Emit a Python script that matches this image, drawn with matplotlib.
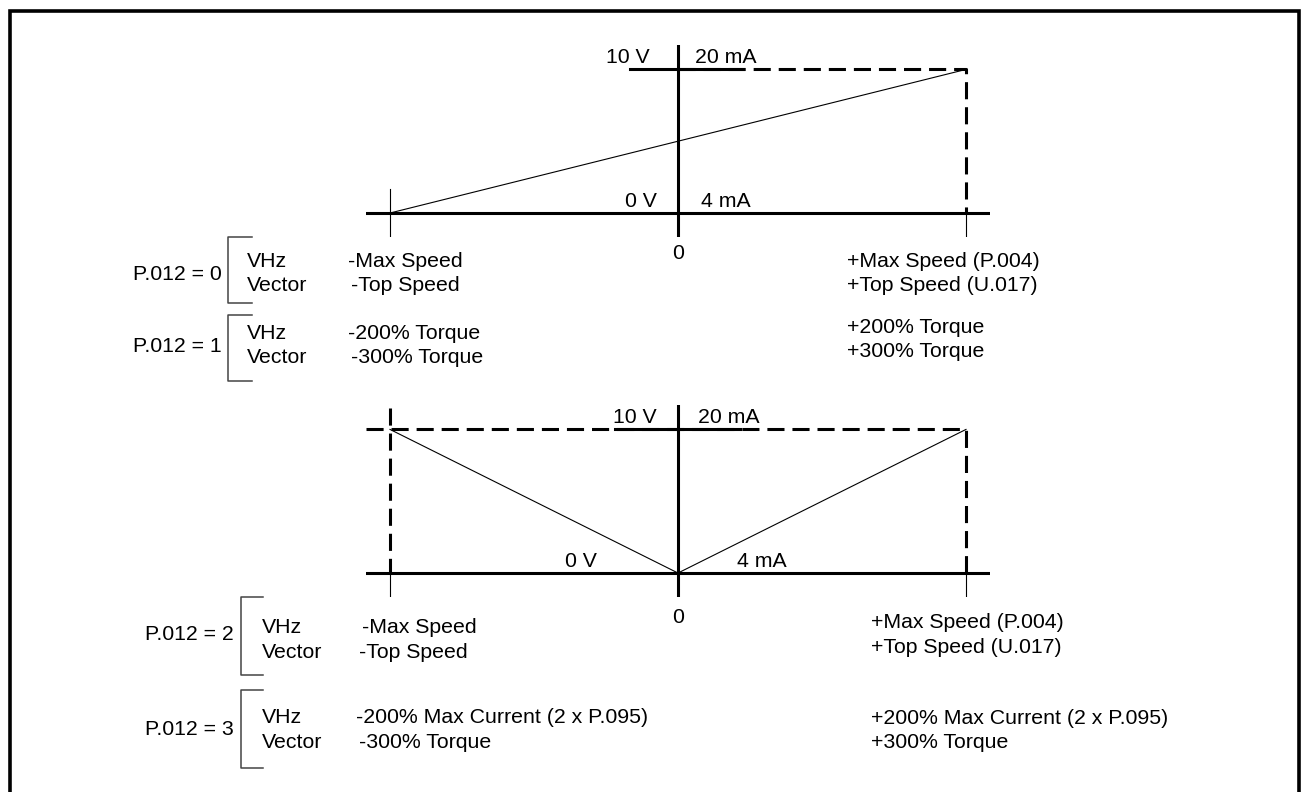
import matplotlib
matplotlib.use("Agg")
import matplotlib.pyplot as plt

plt.rcParams['font.family'] = ['Liberation Sans', 'DejaVu Sans']

# ---------------- data ----------------
speed = [-1.0, 0.0, 1.0]                 # fraction of max speed / torque
unipolar_V = [0.0, 5.0, 10.0]            # P.012 = 0 / 1
bipolar_V = [10.0, 0.0, 10.0]            # P.012 = 2 / 3
v_labels = ["0 V", "10 V"]
ma_labels = ["4 mA", "20 mA"]
zero_label = "0"

top_params = ["P.012 = 0", "P.012 = 1"]
bot_params = ["P.012 = 2", "P.012 = 3"]
modes = ["VHz", "Vector"]
top_neg = [["-Max Speed", "-Top Speed"], ["-200% Torque", "-300% Torque"]]
top_pos = [["+Max Speed (P.004)", "+Top Speed (U.017)"], ["+200% Torque", "+300% Torque"]]
bot_neg = [["-Max Speed", "-Top Speed"], ["-200% Max Current (2 x P.095)", "-300% Torque"]]
bot_pos = [["+Max Speed (P.004)", "+Top Speed (U.017)"], ["+200% Max Current (2 x P.095)", "+300% Torque"]]

W, H = 1306, 792
fig = plt.figure(figsize=(W / 100, H / 100), dpi=100)
FS = 15.3
THICK = 2.2
THIN = 0.8
DASH = (0, (5.6, 2.6))

# overlay for frame, brackets and explanatory text (pixel layout)
ov = fig.add_axes([0, 0, 1, 1])
ov.set_xlim(0, W)
ov.set_ylim(H, 0)
ov.axis('off')
ov.plot([10, 10, 1299, 1299], [H + 5, 10.5, 10.5, H + 5], color='black', lw=2.6,
        solid_joinstyle='miter')


def panel(y_top_px, y_bot_px):
    x0, x1 = 366, 990
    ax = fig.add_axes([x0 / W, 1 - y_bot_px / H, (x1 - x0) / W, (y_bot_px - y_top_px) / H])
    ax.set_xlim(-1.0833, 1.0833)
    ax.set_ylim(-1.67, 11.7)
    ax.axis('off')
    ax.patch.set_alpha(0)
    ax.axhline(0, color='black', lw=THICK)
    ax.axvline(0, color='black', lw=THICK)
    return ax


# ---------------- top panel ----------------
axt = panel(45, 237)
axt.plot(speed, unipolar_V, color='black', lw=THIN)
axt.plot([speed[0], speed[0]], [-1.67, 1.67], color='black', lw=THIN)
axt.plot([speed[2], speed[2]], [-1.67, 0], color='black', lw=THIN)
axt.plot([0, speed[2], speed[2]], [unipolar_V[2], unipolar_V[2], 0], color='black', lw=THICK,
         linestyle=DASH)
axt.plot([-0.167, 0.226], [unipolar_V[2], unipolar_V[2]], color='black', lw=THICK)
axt.text(-0.097, 10.42, v_labels[1], ha='right', va='baseline', fontsize=FS)
axt.text(0.059, 10.42, ma_labels[1], ha='left', va='baseline', fontsize=FS)
axt.text(-0.073, 0.42, v_labels[0], ha='right', va='baseline', fontsize=FS)
axt.text(0.080, 0.42, ma_labels[0], ha='left', va='baseline', fontsize=FS)
axt.text(0, -2.85, zero_label, ha='center', va='center', fontsize=FS, clip_on=False)

# ---------------- bottom panel ----------------
axb = panel(405, 597)
axb.plot(speed, bipolar_V, color='black', lw=THIN)
axb.plot([speed[0], speed[0]], [-1.67, 0], color='black', lw=THIN)
axb.plot([speed[2], speed[2]], [-1.67, 0], color='black', lw=THIN)
axb.plot([speed[0], speed[0]], [11.5, 0], color='black', lw=THICK, linestyle=DASH)
axb.plot([-1.0833, speed[2], speed[2]], [bipolar_V[2], bipolar_V[2], 0], color='black',
         lw=THICK, linestyle=DASH)
axb.plot([-0.219, 0.215], [bipolar_V[1] + 10, bipolar_V[1] + 10], color='black', lw=THICK)
axb.text(-0.073, 10.42, v_labels[1], ha='right', va='baseline', fontsize=FS)
axb.text(0.069, 10.42, ma_labels[1], ha='left', va='baseline', fontsize=FS)
axb.text(-0.281, 0.42, v_labels[0], ha='right', va='baseline', fontsize=FS)
axb.text(0.205, 0.42, ma_labels[0], ha='left', va='baseline', fontsize=FS)
axb.text(0, -3.1, zero_label, ha='center', va='center', fontsize=FS, clip_on=False)


# ---------------- explanatory blocks ----------------
def bracket(x, y0, y1, x_end):
    ov.plot([x_end, x, x, x_end], [y0, y0, y1, y1], color='#444444', lw=1.1)


def block(param, p_x, p_base, br_x, br_y0, br_y1, br_end, mode_x, bases,
          neg, neg_x, pos, pos_x, pos_bases):
    ov.text(p_x, p_base, param, ha='left', va='baseline', fontsize=FS)
    bracket(br_x, br_y0, br_y1, br_end)
    for i in range(2):
        ov.text(mode_x, bases[i], modes[i], ha='left', va='baseline', fontsize=FS)
        ov.text(neg_x[i], bases[i], neg[i], ha='left', va='baseline', fontsize=FS)
        ov.text(pos_x, pos_bases[i], pos[i], ha='left', va='baseline', fontsize=FS)


block(top_params[0], 133, 280, 228, 237, 303, 252, 247, [267, 291],
      top_neg[0], [348, 351], top_pos[0], 847, [267, 291])
block(top_params[1], 133, 352, 228, 315, 381, 252, 247, [339, 363],
      top_neg[1], [348, 351], top_pos[1], 847, [333, 357])
block(bot_params[0], 145, 640, 241, 597, 675, 263, 262, [633, 658],
      bot_neg[0], [362, 359], bot_pos[0], 871, [628, 653])
block(bot_params[1], 145, 735, 241, 690, 768, 263, 262, [723, 748],
      bot_neg[1], [356, 359], bot_pos[1], 871, [724, 748])

fig.savefig("out.png", dpi=100)
